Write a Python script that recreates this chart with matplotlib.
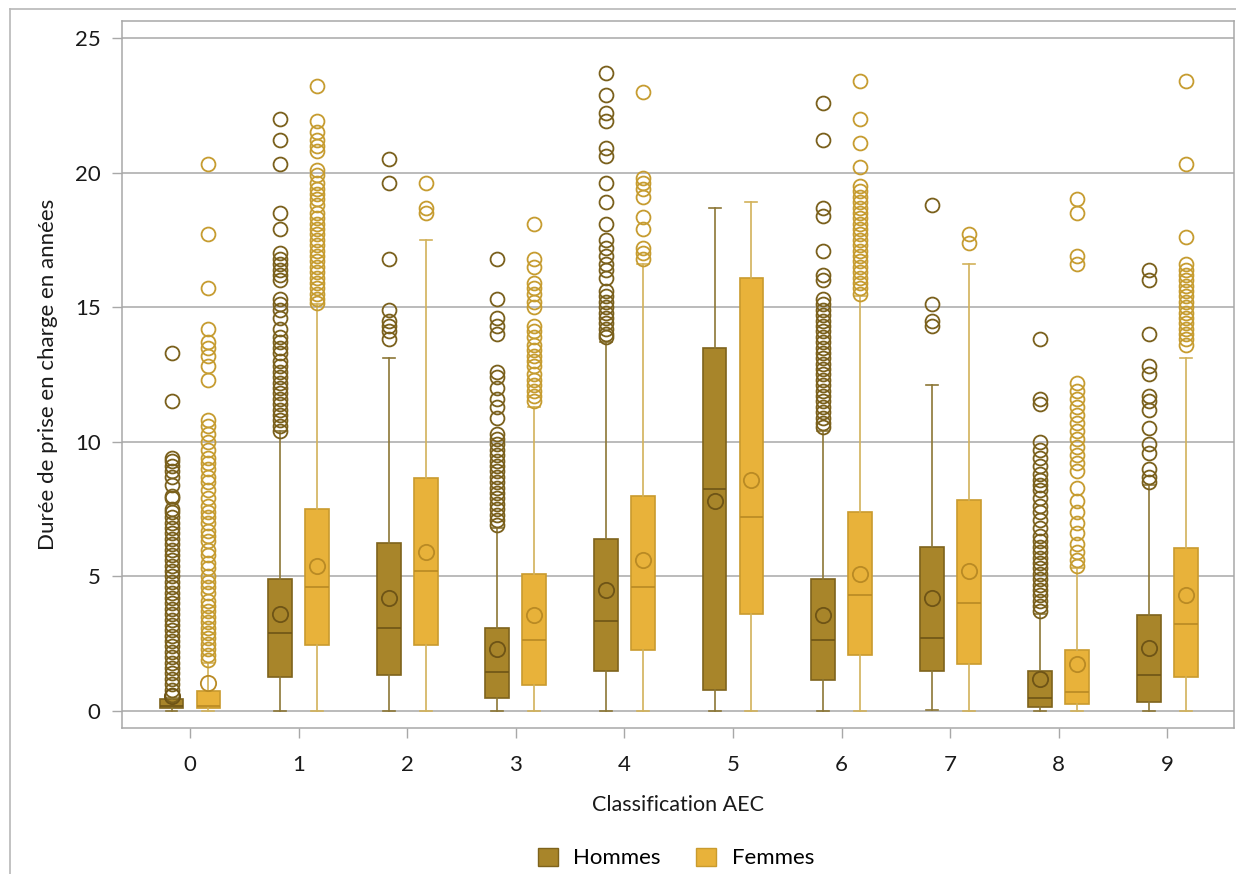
import matplotlib
matplotlib.use("Agg")
import matplotlib.pyplot as plt
from matplotlib.lines import Line2D
from matplotlib.patches import Patch

plt.rcParams['font.family'] = ['Lato', 'DejaVu Sans']

categories = ["0", "1", "2", "3", "4", "5", "6", "7", "8", "9"]
groups = ["Hommes", "Femmes"]

# Hommes statistics
h_q1 = [0.10, 1.25, 1.35, 0.50, 1.50, 0.80, 1.15, 1.50, 0.15, 0.35]
h_med = [0.20, 2.90, 3.10, 1.45, 3.35, 8.25, 2.65, 2.70, 0.50, 1.35]
h_q3 = [0.45, 4.90, 6.25, 3.10, 6.40, 13.50, 4.90, 6.10, 1.50, 3.55]
h_mean = [0.55, 3.60, 4.20, 2.30, 4.50, 7.80, 3.55, 4.20, 1.20, 2.35]
h_wlo = [0.0, 0.0, 0.0, 0.0, 0.0, 0.0, 0.0, 0.05, 0.0, 0.0]
h_whi = [0.50, 10.40, 13.10, 6.80, 13.70, 18.70, 10.40, 12.10, 3.60, 8.40]
h_out = [
    [13.3, 11.5, 9.4, 9.3, 9.1, 8.9, 8.7, 8.4, 8.0, 7.9, 7.5, 7.4, 7.2, 7.0, 6.8, 6.6, 6.4, 6.2,
     6.0, 5.8, 5.6, 5.4, 5.2, 5.0, 4.8, 4.6, 4.4, 4.2, 4.0, 3.8, 3.6, 3.4, 3.2, 3.0, 2.8, 2.6,
     2.4, 2.2, 2.0, 1.8, 1.6, 1.4, 1.2, 1.0, 0.8, 0.6],
    [22.0, 21.2, 20.3, 18.5, 17.9, 17.0, 16.8, 16.6, 16.4, 16.2, 16.0, 15.3, 15.1, 14.9, 14.6,
     14.2, 13.9, 13.7, 13.5, 13.3, 13.0, 12.8, 12.6, 12.4, 12.2, 12.0, 11.8, 11.6, 11.4, 11.2,
     11.0, 10.8, 10.6, 10.4],
    [20.5, 19.6, 16.8, 14.9, 14.5, 14.3, 14.1, 13.8],
    [16.8, 15.3, 14.6, 14.3, 14.0, 12.6, 12.4, 12.0, 11.6, 11.3, 10.9, 10.3, 10.1, 9.9, 9.7,
     9.5, 9.3, 9.1, 8.9, 8.7, 8.5, 8.3, 8.1, 7.9, 7.7, 7.5, 7.3, 7.1, 6.9],
    [23.7, 22.9, 22.2, 21.9, 20.9, 20.6, 19.6, 18.9, 18.1, 17.5, 17.2, 16.9, 16.6, 16.4, 16.1,
     15.6, 15.4, 15.2, 15.0, 14.8, 14.6, 14.4, 14.2, 14.0, 13.9],
    [],
    [22.6, 21.2, 18.7, 18.4, 17.1, 16.2, 16.0, 15.3, 15.1, 14.9, 14.7, 14.5, 14.3, 14.1, 13.9,
     13.7, 13.5, 13.3, 13.1, 12.9, 12.7, 12.5, 12.3, 12.1, 11.9, 11.7, 11.5, 11.3, 11.1, 10.9,
     10.7, 10.55],
    [18.8, 15.1, 14.5, 14.3],
    [13.8, 11.6, 11.4, 10.0, 9.7, 9.4, 9.1, 8.8, 8.6, 8.4, 8.2, 7.9, 7.6, 7.4, 7.1, 6.8, 6.5,
     6.3, 6.1, 5.9, 5.7, 5.5, 5.3, 5.1, 4.9, 4.7, 4.5, 4.3, 4.1, 3.9, 3.7],
    [16.4, 16.0, 14.0, 12.8, 12.5, 11.7, 11.5, 11.2, 10.5, 9.9, 9.6, 9.0, 8.7, 8.5],
]

# Femmes statistics
f_q1 = [0.10, 2.45, 2.45, 0.95, 2.25, 3.60, 2.10, 1.75, 0.25, 1.25]
f_med = [0.20, 4.60, 5.20, 2.65, 4.60, 7.20, 4.30, 4.00, 0.70, 3.25]
f_q3 = [0.75, 7.50, 8.65, 5.10, 8.00, 16.10, 7.40, 7.85, 2.25, 6.05]
f_mean = [1.05, 5.40, 5.90, 3.55, 5.60, 8.60, 5.10, 5.20, 1.75, 4.30]
f_wlo = [0.0, 0.0, 0.0, 0.0, 0.0, 0.0, 0.0, 0.0, 0.0, 0.0]
f_whi = [1.80, 15.10, 17.50, 11.30, 16.60, 18.90, 15.40, 16.60, 5.30, 13.10]
f_out = [
    [20.3, 17.7, 15.7, 14.2, 13.7, 13.5, 13.2, 12.8, 12.3, 10.8, 10.6, 10.3, 10.0, 9.7, 9.4,
     9.2, 9.0, 8.7, 8.5, 8.2, 7.9, 7.6, 7.4, 7.2, 7.0, 6.7, 6.5, 6.3, 6.0, 5.8, 5.5, 5.3, 5.0,
     4.8, 4.6, 4.4, 4.1, 3.9, 3.7, 3.5, 3.3, 3.1, 2.9, 2.7, 2.5, 2.3, 2.1, 1.9],
    [23.2, 21.9, 21.5, 21.2, 21.0, 20.8, 20.1, 19.9, 19.6, 19.4, 19.2, 19.0, 18.8, 18.5, 18.3,
     18.1, 17.9, 17.7, 17.5, 17.3, 17.1, 16.9, 16.7, 16.5, 16.3, 16.1, 15.9, 15.7, 15.5, 15.3,
     15.15],
    [19.6, 18.7, 18.5],
    [18.1, 16.8, 16.5, 15.9, 15.7, 15.5, 15.2, 15.0, 14.3, 14.1, 13.9, 13.6, 13.4, 13.2, 13.0,
     12.8, 12.5, 12.3, 12.1, 11.9, 11.7, 11.5],
    [23.0, 19.8, 19.6, 19.4, 19.1, 18.35, 17.9, 17.2, 17.0, 16.8],
    [],
    [23.4, 22.0, 21.1, 20.2, 19.5, 19.3, 19.1, 18.9, 18.7, 18.5, 18.3, 18.1, 17.9, 17.7, 17.5,
     17.3, 17.1, 16.9, 16.7, 16.5, 16.3, 16.1, 15.9, 15.7, 15.5],
    [17.7, 17.4],
    [19.0, 18.5, 16.9, 16.6, 12.2, 11.9, 11.6, 11.3, 11.0, 10.7, 10.4, 10.1, 9.8, 9.5, 9.2,
     8.9, 8.3, 7.8, 7.4, 7.0, 6.6, 6.2, 5.9, 5.6, 5.4],
    [23.4, 20.3, 17.6, 16.6, 16.4, 16.2, 16.0, 15.8, 15.6, 15.4, 15.2, 15.0, 14.8, 14.6, 14.4,
     14.2, 14.0, 13.8, 13.6],
]

yticks = [0, 5, 10, 15, 20, 25]

styles = {
    "Hommes": dict(fill="#A8852A", edge="#7E631C", med="#6E5416", whisk="#8C7736",
                   flier="#7A601C", mean="#6E5416"),
    "Femmes": dict(fill="#E8B23A", edge="#C99B2E", med="#B98A24", whisk="#D2B25A",
                   flier="#C69C30", mean="#B98A24"),
}


def make_stats(q1, med, q3, mean, wlo, whi, out):
    return [dict(q1=a, med=b, q3=c, mean=d, whislo=e, whishi=f, fliers=g)
            for a, b, c, d, e, f, g in zip(q1, med, q3, mean, wlo, whi, out)]


fig = plt.figure(figsize=(12.36, 8.74), dpi=100)
ax = fig.add_axes([122 / 1236, 1 - 728 / 874, (1234 - 122) / 1236, (728 - 21) / 874])

offset = 0.17
width = 0.22
data = {
    "Hommes": make_stats(h_q1, h_med, h_q3, h_mean, h_wlo, h_whi, h_out),
    "Femmes": make_stats(f_q1, f_med, f_q3, f_mean, f_wlo, f_whi, f_out),
}
for gi, g in enumerate(groups):
    s = styles[g]
    pos = [i + (-offset if gi == 0 else offset) for i in range(len(categories))]
    ax.bxp(data[g], positions=pos, widths=width, patch_artist=True, showmeans=True,
           capwidths=0.11, manage_ticks=False,
           boxprops=dict(facecolor=s["fill"], edgecolor=s["edge"], linewidth=1.2),
           medianprops=dict(color=s["med"], linewidth=1.2),
           whiskerprops=dict(color=s["whisk"], linewidth=1.2),
           capprops=dict(color=s["whisk"], linewidth=1.2),
           flierprops=dict(marker="o", markerfacecolor="none", markeredgecolor=s["flier"],
                           markersize=10, markeredgewidth=1.3, linestyle="none"),
           meanprops=dict(marker="o", markerfacecolor="none", markeredgecolor=s["mean"],
                          markersize=11, markeredgewidth=1.3),
           zorder=3)

ax.set_xlim(-0.626, 9.613)
ax.set_ylim(-0.63, 25.63)
ax.set_xticks(range(len(categories)))
ax.set_xticklabels(categories)
ax.set_yticks(yticks)
ax.yaxis.grid(True, color="#A8A8A8", linewidth=1.1, zorder=0)
ax.set_axisbelow(True)
for sp in ax.spines.values():
    sp.set_color("#A8A8A8")
    sp.set_linewidth(1.1)
ax.tick_params(axis="both", direction="out", length=7.5, width=1.0, color="#A8A8A8",
               labelsize=16, labelcolor="#1A1A1A", pad=8)
ax.tick_params(axis="x", pad=12)

ax.set_xlabel("Classification AEC", fontsize=15.5, color="#1A1A1A", labelpad=14)
ax.set_ylabel("Durée de prise en charge en années", fontsize=16, color="#1A1A1A",
              labelpad=12)

handles = [Patch(facecolor=styles[g]["fill"], edgecolor=styles[g]["edge"], label=g)
           for g in groups]
fig.legend(handles=handles, loc="center", bbox_to_anchor=(676 / 1236, 1 - 858 / 874),
           ncol=2, frameon=False, fontsize=16, handlelength=0.9, handleheight=0.9,
           columnspacing=1.6, handletextpad=0.7)

# outer frame lines
fig.add_artist(Line2D([10 / 1236, 10 / 1236], [0, 1 - 9 / 874], transform=fig.transFigure,
                      color="#B8B8B8", linewidth=1.2))
fig.add_artist(Line2D([10 / 1236, 1], [1 - 9 / 874, 1 - 9 / 874], transform=fig.transFigure,
                      color="#B8B8B8", linewidth=1.2))

fig.savefig("out.png", dpi=100)
